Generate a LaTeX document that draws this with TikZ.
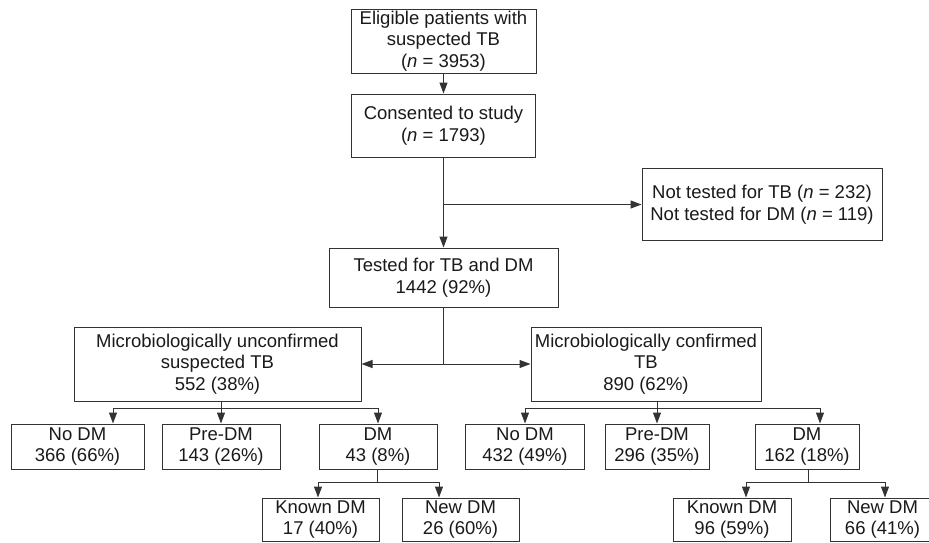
\documentclass[tikz,border=0pt]{standalone}
\usepackage{fontspec}
\setmainfont{Liberation Sans}
\usetikzlibrary{arrows.meta,calc}
\definecolor{ln}{HTML}{333333}
\definecolor{tx}{HTML}{1A1A1A}
\tikzset{
  box/.style={draw=ln, line width=1pt, inner sep=0pt, align=center, text=tx,
    font=\fontsize{18.5}{21.7}\selectfont},
  arr/.style={draw=ln, line width=1pt, -{Triangle[length=11pt,width=8pt]}},
  con/.style={draw=ln, line width=1pt}
}
\begin{document}
\begin{tikzpicture}[x=1pt,y=-1pt]
\clip (0,0) rectangle (929,542);
\fill[white] (0,0) rectangle (929,542);
% top chain
\node[box, minimum width=185pt, minimum height=64pt] (elig) at (443.5,41) {Eligible patients with\\suspected TB\\(\textit{n} = 3953)};
\node[box, minimum width=184pt, minimum height=63pt] (cons) at (443.5,125.5) {Consented to study\\(\textit{n} = 1793)};
\node[box, minimum width=240pt, minimum height=72pt] (nott) at (762,204.5) {Not tested for TB (\textit{n} = 232)\\Not tested for DM (\textit{n} = 119)};
\node[box, minimum width=229pt, minimum height=59pt] (tested) at (443.5,277.5) {Tested for TB and DM\\1442 (92\%)};
% second level
\node[box, minimum width=287pt, minimum height=74pt] (unconf) at (217.5,364) {Microbiologically unconfirmed\\suspected TB\\552 (38\%)};
\node[box, minimum width=230pt, minimum height=74pt] (conf) at (646,364) {Microbiologically confirmed\\TB\\890 (62\%)};
% third level left
\node[box, minimum width=133pt, minimum height=45pt] (lnodm) at (77.5,446.5) {No DM\\366 (66\%)};
\node[box, minimum width=118pt, minimum height=45pt] (lpre) at (221,446.5) {Pre-DM\\143 (26\%)};
\node[box, minimum width=118pt, minimum height=45pt] (ldm) at (378,446.5) {DM\\43 (8\%)};
% third level right
\node[box, minimum width=119pt, minimum height=45pt] (rnodm) at (525,446.5) {No DM\\432 (49\%)};
\node[box, minimum width=104pt, minimum height=45pt] (rpre) at (657,446.5) {Pre-DM\\296 (35\%)};
\node[box, minimum width=104pt, minimum height=45pt] (rdm) at (807,446.5) {DM\\162 (18\%)};
% fourth level
\node[box, minimum width=117pt, minimum height=43pt] (lkn) at (320.5,519.5) {Known DM\\17 (40\%)};
\node[box, minimum width=117pt, minimum height=43pt] (lnew) at (460.5,519.5) {New DM\\26 (60\%)};
\node[box, minimum width=118pt, minimum height=43pt] (rkn) at (732,519.5) {Known DM\\96 (59\%)};
\node[box, minimum width=105pt, minimum height=43pt] (rnew) at (882.5,519.5) {New DM\\66 (41\%)};
% connectors top
\draw[arr] (elig.south) -- (cons.north);
\draw[arr] (cons.south) -- (tested.north);
\draw[arr] (cons.south |- nott.west) -- (nott.west);
% split TB
\coordinate (split) at (tested.south |- unconf.east);
\draw[con] (tested.south) -- (split);
\draw[arr] (split) -- (unconf.east);
\draw[arr] (split) -- (conf.west);
% left children
\coordinate (lbar) at ([xshift=35.5pt,yshift=15pt]lnodm.north);
\draw[arr] (lpre.north |- unconf.south) -- (lpre.north);
\draw[arr] (lbar) -- ([xshift=35.5pt]lnodm.north);
\draw[arr] (lbar) -| (ldm.north);
% right children
\coordinate (rbar) at ([yshift=15pt]rnodm.north);
\draw[arr] (rpre.north |- conf.south) -- (rpre.north);
\draw[arr] (rbar) -- (rnodm.north);
\draw[arr] (rbar) -| ([xshift=13pt]rdm.north);
% left grandchildren
\coordinate (lg) at ([xshift=-2.5pt,yshift=15pt]lkn.north);
\draw[con] ([xshift=-1pt]ldm.south) -- ([xshift=-1pt]ldm.south |- lg);
\draw[arr] (lg) -- ([xshift=-2.5pt]lkn.north);
\draw[arr] (lg) -| ([xshift=-21.5pt]lnew.north);
% right grandchildren
\coordinate (rg) at ([xshift=14pt,yshift=15pt]rkn.north);
\draw[con] ([xshift=1pt]rdm.south) -- ([xshift=1pt]rdm.south |- rg);
\draw[arr] (rg) -- ([xshift=14pt]rkn.north);
\draw[arr] (rg) -| ([xshift=2.5pt]rnew.north);
\end{tikzpicture}
\end{document}
